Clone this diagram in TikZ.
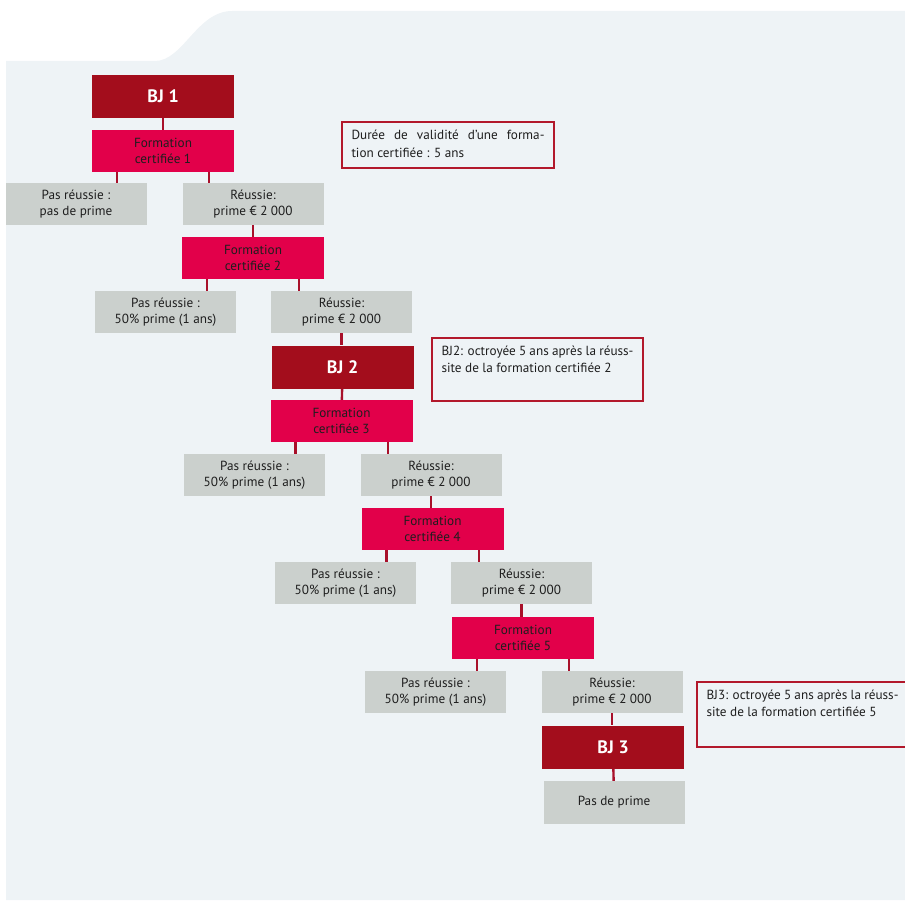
\documentclass[tikz,border=0pt]{standalone}
\usepackage{fontspec}
\setmainfont{PT Sans}
\definecolor{panelbg}{HTML}{EEF3F6}
\definecolor{bjred}{HTML}{A30D1C}
\definecolor{formred}{HTML}{E2004A}
\definecolor{greyfill}{HTML}{CBD0CD}
\definecolor{notered}{HTML}{B2182B}
\definecolor{linkred}{HTML}{A8102A}
\definecolor{txt}{HTML}{1E1E1E}
\tikzset{
  basebox/.style={rectangle, inner sep=0pt, align=center, text=txt,
    font=\fontsize{13.2}{15.5}\selectfont},
  bjbox/.style={basebox, fill=bjred, minimum width=142pt, minimum height=43pt,
    text=white, font=\fontsize{18}{20}\selectfont\bfseries},
  formbox/.style={basebox, fill=formred, minimum width=142pt, minimum height=42pt},
  greybox/.style={basebox, fill=greyfill, minimum width=141pt, minimum height=42pt},
  notebox/.style={draw=notered, line width=2pt, anchor=north west, inner xsep=9.5pt,
    inner ysep=8pt, text=txt, font=\fontsize{13.2}{16.5}\selectfont},
  link/.style={draw=linkred, line width=2.4pt},
}
\begin{document}
\begin{tikzpicture}[x=1pt,y=-1pt]
\useasboundingbox (0,0) rectangle (905,901);
\clip (0,0) rectangle (905,901);
\fill[panelbg] (6,61) -- (155,61) .. controls (183,61) and (197,11) .. (232,11)
  -- (905,11) -- (905,900) -- (6,900) -- cycle;

\node[bjbox] (bj1) at (163,96.5) {BJ 1};
\node[formbox] (f1) at (163,151) {Formation\\certifiée 1};
\node[greybox] (p1) at (76,204) {Pas réussie :\\pas de prime};
\node[greybox] (r1) at (253,204) {Réussie:\\prime € 2~000};

\node[formbox] (f2) at (253,258) {Formation\\certifiée 2};
\node[greybox] (p2) at (165.5,312) {Pas réussie :\\50\% prime (1 ans)};
\node[greybox] (r2) at (341.5,312) {Réussie:\\prime € 2~000};

\node[bjbox] (bj2) at (342.5,367) {BJ 2};
\node[formbox] (f3) at (341.5,421) {Formation\\certifiée 3};
\node[greybox] (p3) at (254.5,475) {Pas réussie :\\50\% prime (1 ans)};
\node[greybox] (r3) at (431,475) {Réussie:\\prime € 2~000};

\node[formbox] (f4) at (432.5,529) {Formation\\certifiée 4};
\node[greybox] (p4) at (345.5,583) {Pas réussie :\\50\% prime (1 ans)};
\node[greybox] (r4) at (521.5,583) {Réussie:\\prime € 2~000};

\node[formbox] (f5) at (523,638) {Formation\\certifiée 5};
\node[greybox] (p5) at (435.5,692) {Pas réussie :\\50\% prime (1 ans)};
\node[greybox] (r5) at (612,692) {Réussie:\\prime € 2~000};

\node[bjbox] (bj3) at (613,747) {BJ 3};
\node[greybox, minimum height=43pt] (pp) at (614,802.5) {Pas de prime};

% notes
\node[notebox] (n1) at (341,121)
  {\parbox[t][30pt][t]{193pt}{\baselineskip=18pt\makebox[193pt][s]{Durée de validité d’une forma-}\\tion certifiée : 5 ans}};
\node[notebox] (n2) at (431,337)
  {\parbox[t][47pt][t]{192pt}{\makebox[192pt][s]{BJ2: octroyée 5 ans après la réuss-}\\site de la formation certifiée 2}};
\node[notebox] (n3) at (696,681)
  {\parbox[t][49pt][t]{230pt}{\makebox[192pt][s]{BJ3: octroyée 5 ans après la réuss-}\\site de la formation certifiée 5}};

% connectors
\draw[link] (bj1) -- (f1);
\draw[link] (bj2) -- (f3);
\draw[link] (bj3) -- (pp);
\draw[link] (r1.south) -- (r1.south |- f2.north);
\draw[link] (r2.south) -- (r2.south |- bj2.north);
\draw[link] (r3.south) -- (r3.south |- f4.north);
\draw[link] (r4.south) -- (r4.south |- f5.north);
\draw[link] (r5.south) -- (r5.south |- bj3.north);
\foreach \i in {1,...,5}{
  \draw[link] ([xshift=25pt]f\i.south west) -- ([xshift=25pt]f\i.south west |- p\i.north);
  \draw[link] ([xshift=-25pt]f\i.south east) -- ([xshift=-25pt]f\i.south east |- r\i.north);
}
\end{tikzpicture}
\end{document}
